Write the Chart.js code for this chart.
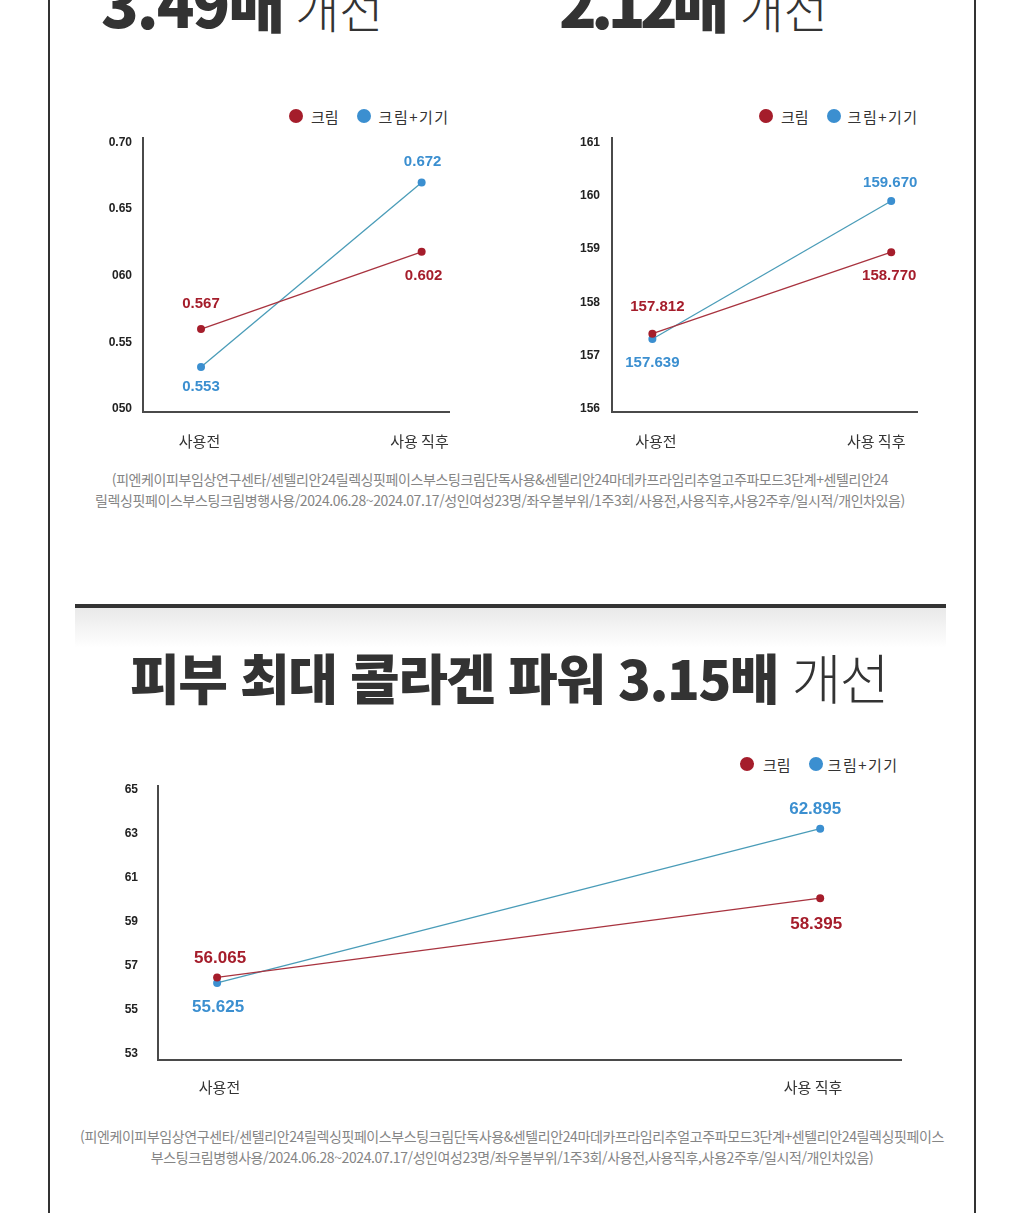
<!DOCTYPE html>
<html lang="ko">
<head>
<meta charset="utf-8">
<title>크림 / 크림+기기 비교</title>
<script src="https://cdn.jsdelivr.net/npm/chart.js@4.4.1/dist/chart.umd.min.js"></script>
<style>
  body { margin: 0; background: #fff; font-family: 'Noto Sans CJK KR', sans-serif; }
  .page { position: relative; width: 1024px; height: 1213px; overflow: hidden; background: #fff; }
  .edge { position: absolute; top: 0; height: 1213px; width: 2px; background: #333; }
  .big { position: absolute; white-space: nowrap; color: #333; }
  .big b { font-weight: 900; }
  .big span { font-weight: 300; }
  .bar { position: absolute; left: 75px; width: 871px; top: 604px; height: 4px; background: #333; }
  .shade { position: absolute; left: 75px; width: 871px; top: 608px; height: 40px;
           background: linear-gradient(#e9e9e9, #fff); }
  .legend { position: absolute; height: 20px; display: flex; align-items: center;
            font-size: 15px; color: #333; white-space: nowrap; }
  .legend i { display: inline-block; width: 14px; height: 14px; border-radius: 50%; }
  .box { position: absolute; }
  .foot { position: absolute; width: 1024px; text-align: center; color: #858585;
          font-size: 14px; line-height: 21px; letter-spacing: -0.4px; white-space: nowrap; }
</style>
</head>
<body>
<div class="page">
  <div class="edge" style="left:48px"></div>
  <div class="edge" style="left:974px"></div>

  <div class="big" style="left:101px; top:-30px; line-height:62px"><b style="font-size:62px; letter-spacing:-2px">3.49배</b><span style="font-size:48px; margin-left:12px">개선</span></div>
  <div class="big" style="left:559px; top:-30px; line-height:62px"><b style="font-size:62px; letter-spacing:-5.5px">2.12배</b><span style="font-size:48px; margin-left:16px">개선</span></div>

  <div class="legend" id="legend1" style="left:289px; top:106px"></div>
  <div class="legend" id="legend2" style="left:759px; top:106px"></div>
  <div class="box" style="left:90px; top:120px; width:380px; height:342px"><canvas id="chart1"></canvas></div>
  <div class="box" style="left:560px; top:119px; width:380px; height:343px"><canvas id="chart2"></canvas></div>

  <div class="foot" style="left:-12px; top:469px">(피엔케이피부임상연구센타/센텔리안24릴렉싱핏페이스부스팅크림단독사용&amp;센텔리안24마데카프라임리추얼고주파모드3단계+센텔리안24<br>릴렉싱핏페이스부스팅크림병행사용/2024.06.28~2024.07.17/성인여성23명/좌우볼부위/1주3회/사용전,사용직후,사용2주후/일시적/개인차있음)</div>

  <div class="bar"></div>
  <div class="shade"></div>
  <div class="big" style="left:0; width:1018px; text-align:center; top:645px; font-size:54px; line-height:64px; letter-spacing:-1.5px"><b>피부 최대 콜라겐 파워 3.15배</b> <span>개선</span></div>

  <div class="legend" id="legend3" style="left:740px; top:754px"></div>
  <div class="box" style="left:100px; top:759px; width:820px; height:351px"><canvas id="chart3"></canvas></div>

  <div class="foot" style="left:0; top:1126px">(피엔케이피부임상연구센타/센텔리안24릴렉싱핏페이스부스팅크림단독사용&amp;센텔리안24마데카프라임리추얼고주파모드3단계+센텔리안24릴렉싱핏페이스<br>부스팅크림병행사용/2024.06.28~2024.07.17/성인여성23명/좌우볼부위/1주3회/사용전,사용직후,사용2주후/일시적/개인차있음)</div>
</div>

<script>
// 공통 항목
const categories = ['사용전', '사용 직후'];
const seriesNames = ['크림', '크림+기기'];

// 차트 1 - 눈금
const chart1TickValues = [0.70, 0.65, 0.60, 0.55, 0.50];
const chart1TickLabels = ['0.70', '0.65', '060', '0.55', '050'];
// 점이 그려진 위치
const chart1Cream = [0.560, 0.618];
const chart1Device = [0.5315, 0.670];
// 점 옆에 적힌 값
const chart1CreamText = ['0.567', '0.602'];
const chart1DeviceText = ['0.553', '0.672'];

// 차트 2
const chart2TickValues = [161, 160, 159, 158, 157, 156];
const chart2TickLabels = ['161', '160', '159', '158', '157', '156'];
const chart2Cream = [157.41, 158.94];
const chart2Device = [157.31, 159.90];
const chart2CreamText = ['157.812', '158.770'];
const chart2DeviceText = ['157.639', '159.670'];

// 차트 3 - 콜라겐
const chart3TickValues = [65, 63, 61, 59, 57, 55, 53];
const chart3TickLabels = ['65', '63', '61', '59', '57', '55', '53'];
const chart3Cream = [56.46, 60.06];
const chart3Device = [56.21, 63.22];
const chart3CreamText = ['56.065', '58.395'];
const chart3DeviceText = ['55.625', '62.895'];

const RED = '#a51d2b';
const BLUE = '#3b8fd0';
const RED_LINE = '#a8333f';
const BLUE_LINE = '#4a9cb8';

// 범례  gaps = [점-글자, 항목 사이, 점-글자]
function buildLegend(id, gaps) {
  const el = document.getElementById(id);
  const colors = [RED, BLUE];
  seriesNames.forEach((name, i) => {
    const dot = document.createElement('i');
    dot.style.background = colors[i];
    dot.style.marginLeft = i === 0 ? '0px' : gaps[1] + 'px';
    dot.style.marginRight = (i === 0 ? gaps[0] : gaps[2]) + 'px';
    el.appendChild(dot);
    const t = document.createElement('span');
    t.textContent = name;
    if (i === 1) t.style.letterSpacing = '1.5px';
    el.appendChild(t);
  });
}
buildLegend('legend1', [8, 18, 8]);
buildLegend('legend2', [8, 18, 7]);
buildLegend('legend3', [9, 18, 5]);

// 점 옆 숫자 그리기
const pointText = {
  id: 'pointText',
  afterDatasetsDraw(chart) {
    const ctx = chart.ctx;
    const size = chart.options.plugins.pointText.size;
    chart.data.datasets.forEach((ds, di) => {
      const meta = chart.getDatasetMeta(di);
      meta.data.forEach((pt, i) => {
        ctx.save();
        ctx.font = 'bold ' + size + "px 'Liberation Sans', Arial, sans-serif";
        ctx.fillStyle = ds.textColor;
        ctx.textAlign = 'center';
        ctx.textBaseline = 'middle';
        ctx.fillText(ds.valueText[i], pt.x + ds.textDx[i], pt.y + ds.textDy[i]);
        ctx.restore();
      });
    });
  }
};

function toPoints(values) {
  return values.map((v, i) => ({ x: i, y: v }));
}

function makeChart(id, o) {
  return new Chart(document.getElementById(id), {
    type: 'line',
    data: {
      datasets: [
        {
          label: seriesNames[0],
          data: toPoints(o.cream),
          borderColor: RED_LINE,
          backgroundColor: RED,
          pointBackgroundColor: RED,
          borderWidth: 1.3,
          pointRadius: 4,
          pointBorderWidth: 0,
          valueText: o.creamText,
          textColor: RED,
          textDx: o.creamDx,
          textDy: o.creamDy,
        },
        {
          label: seriesNames[1],
          data: toPoints(o.device),
          borderColor: BLUE_LINE,
          backgroundColor: BLUE,
          pointBackgroundColor: BLUE,
          borderWidth: 1.3,
          pointRadius: 4,
          pointBorderWidth: 0,
          valueText: o.deviceText,
          textColor: BLUE,
          textDx: o.deviceDx,
          textDy: o.deviceDy,
        },
      ],
    },
    options: {
      responsive: true,
      maintainAspectRatio: false,
      animation: false,
      layout: { padding: { top: 0, right: o.padRight, left: 0, bottom: 0 } },
      plugins: {
        legend: { display: false },
        tooltip: { enabled: false },
        pointText: { size: o.textSize },
      },
      scales: {
        x: {
          type: 'linear',
          min: o.xMin,
          max: o.xMax,
          // 항목 글자 위치 (점 아래에서 조금씩 어긋나 있음)
          afterBuildTicks: (s) => { s.ticks = o.labelAt.map((v) => ({ value: v })); },
          afterFit: (s) => { s.height = 50; },
          grid: { display: false, drawTicks: false },
          border: { display: true, color: '#4a4a4a', width: 2 },
          ticks: {
            padding: 0,
            color: '#333',
            // 글자 높이로 축과 글자 사이를 띄움
            font: { family: "'Noto Sans CJK KR', sans-serif", size: 15, lineHeight: o.xLine / 15 },
            callback: (v, i) => categories[i],
          },
        },
        y: {
          min: o.yMin,
          max: o.yMax,
          afterBuildTicks: (s) => { s.ticks = o.tickValues.map((v) => ({ value: v })); },
          afterFit: (s) => { s.width = o.yWidth; },
          grid: { display: false, drawTicks: false },
          border: { display: true, color: '#4a4a4a', width: 2 },
          ticks: {
            padding: o.yPad,
            color: '#222',
            font: { family: "'Liberation Sans', Arial, sans-serif", size: 12, weight: 'bold' },
            callback: (v, i) => o.tickLabels[i],
          },
        },
      },
    },
    plugins: [pointText],
  });
}

makeChart('chart1', {
  cream: chart1Cream, device: chart1Device,
  creamText: chart1CreamText, deviceText: chart1DeviceText,
  creamDx: [0, 2], creamDy: [-25, 24], deviceDx: [0, 1], deviceDy: [20, -21],
  tickValues: chart1TickValues, tickLabels: chart1TickLabels,
  yMin: 0.4978, yMax: 0.7032, xMin: -0.263, xMax: 1.124, labelAt: [-0.007, 0.99],
  yWidth: 53, yPad: 11, xLine: 58, padRight: 21, textSize: 15,
});

makeChart('chart2', {
  cream: chart2Cream, device: chart2Device,
  creamText: chart2CreamText, deviceText: chart2DeviceText,
  creamDx: [5, -2], creamDy: [-27, 24], deviceDx: [0, -1], deviceDy: [24, -18],
  tickValues: chart2TickValues, tickLabels: chart2TickLabels,
  yMin: 155.94, yMax: 161.08, xMin: -0.169, xMax: 1.108, labelAt: [0.015, 0.937],
  yWidth: 52, yPad: 12, xLine: 58, padRight: 23, textSize: 15,
});

makeChart('chart3', {
  cream: chart3Cream, device: chart3Device,
  creamText: chart3CreamText, deviceText: chart3DeviceText,
  creamDx: [3, -4], creamDy: [-19, 26], deviceDx: [1, -5], deviceDy: [24, -19],
  tickValues: chart3TickValues, tickLabels: chart3TickLabels,
  yMin: 52.71, yMax: 65.15, xMin: -0.098, xMax: 1.134, labelAt: [0.004, 0.988],
  yWidth: 58, yPad: 20, xLine: 54, padRight: 19, textSize: 17,
});
</script>
</body>
</html>
